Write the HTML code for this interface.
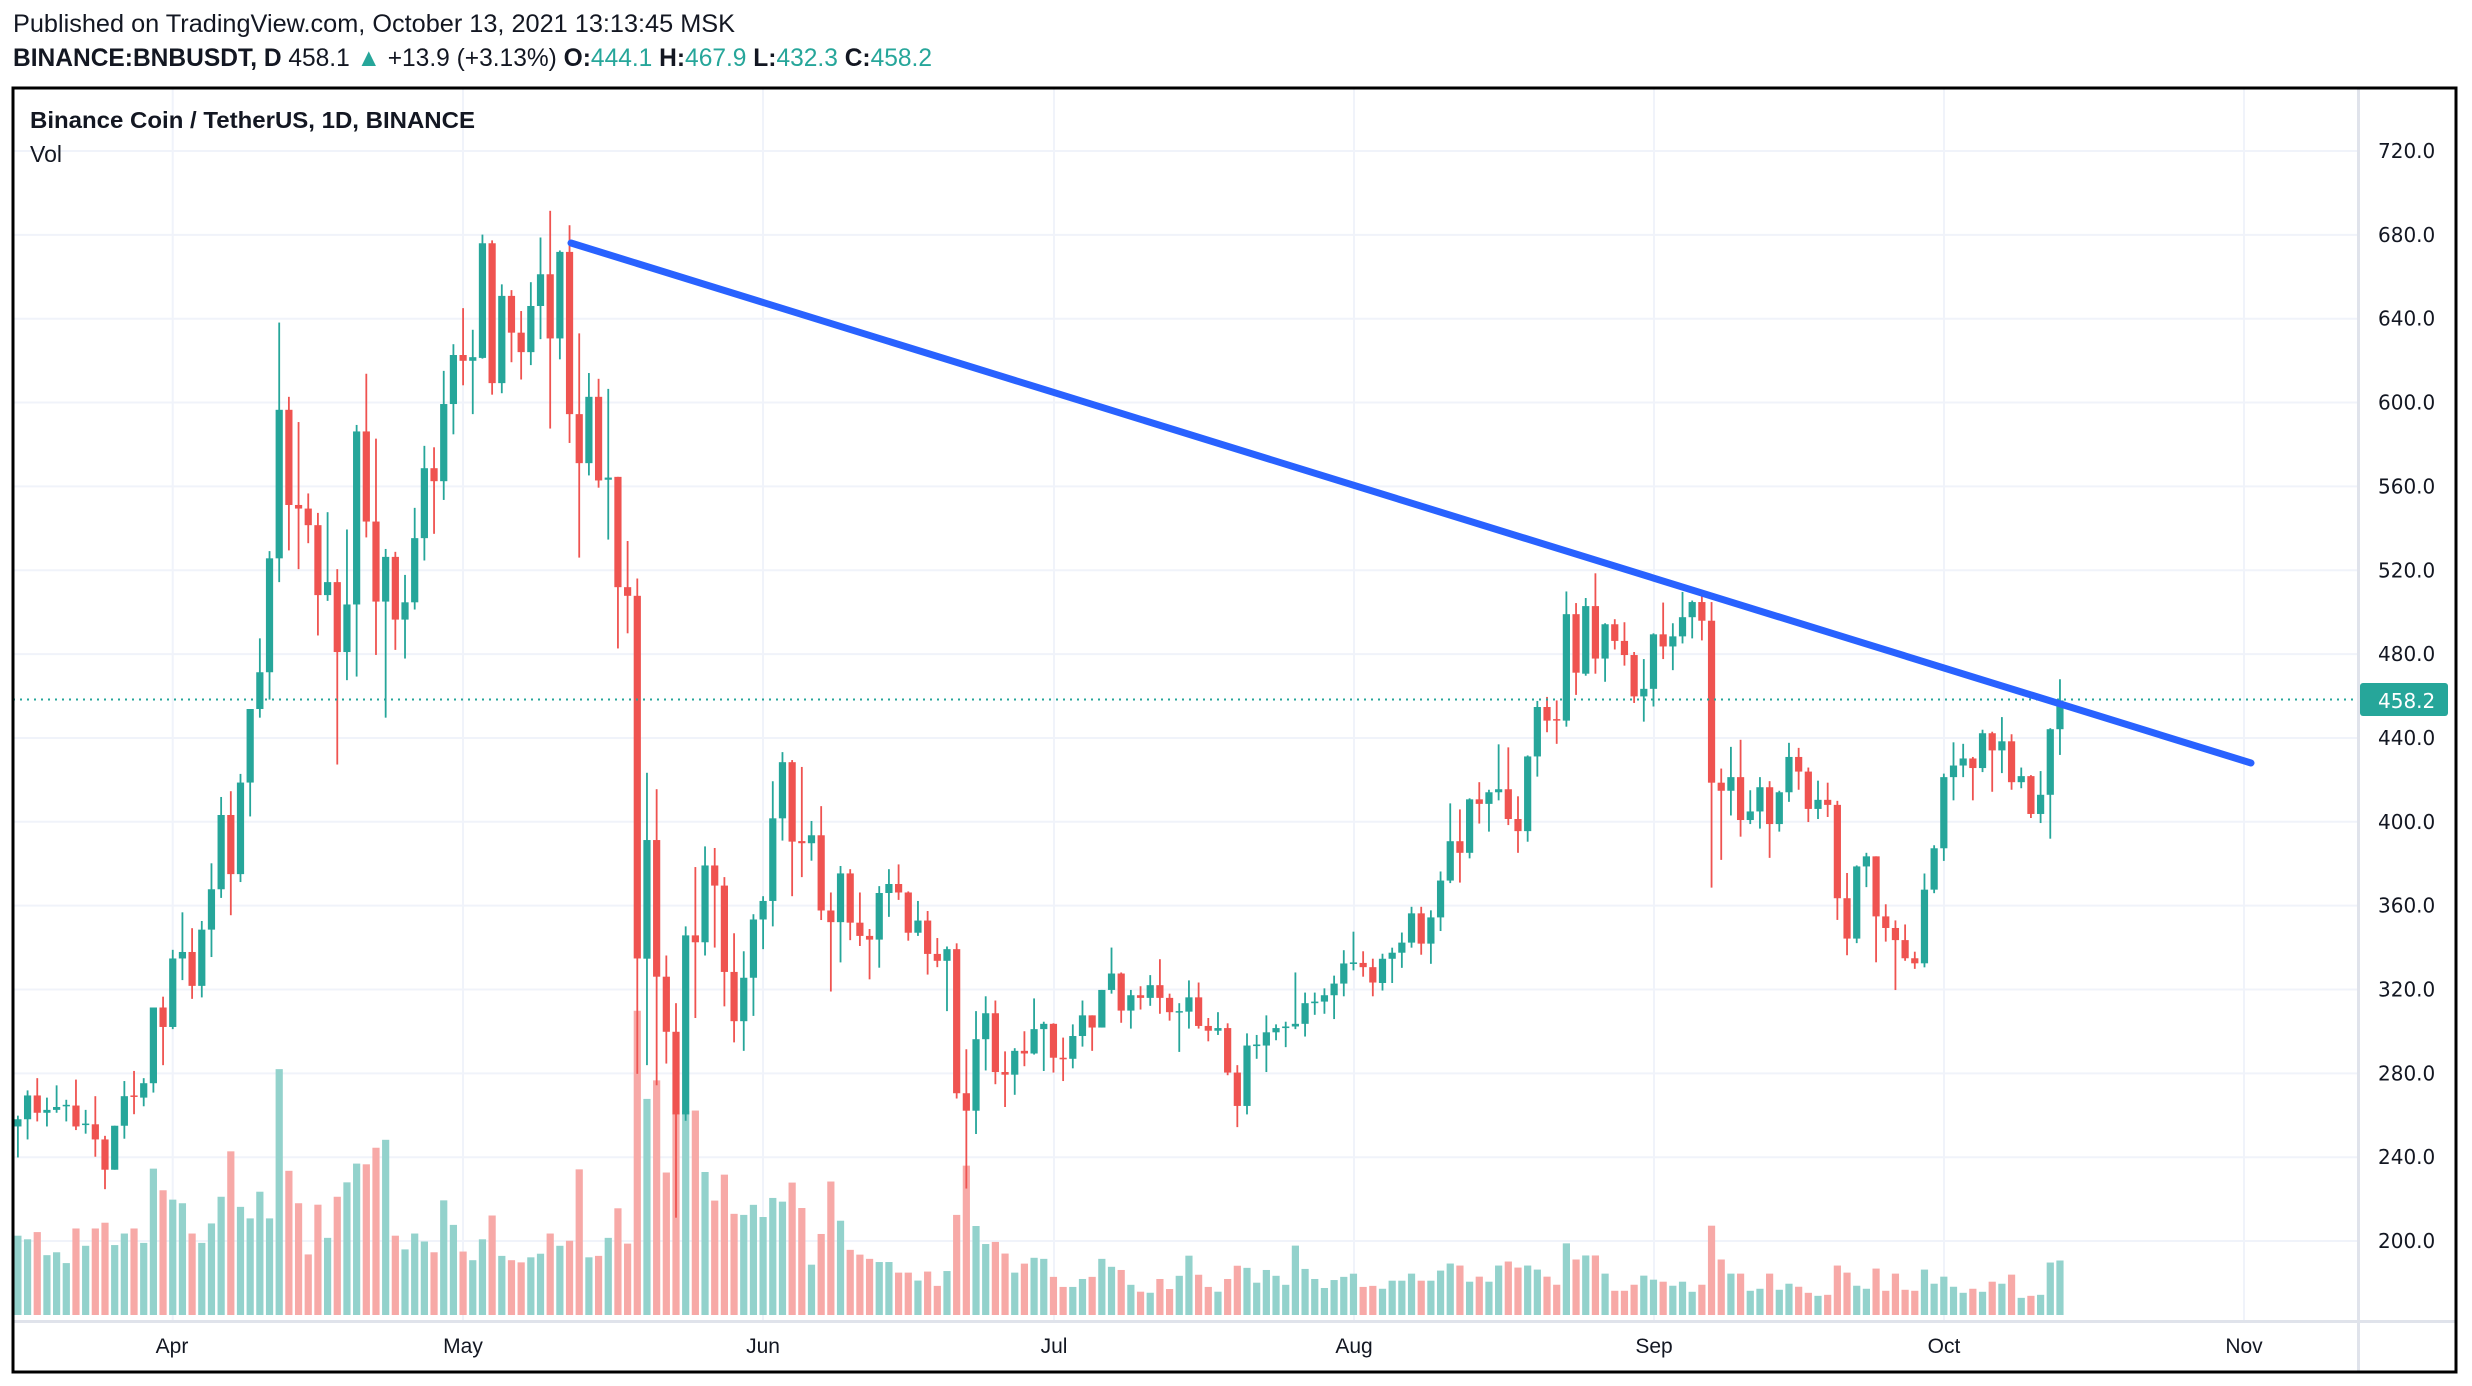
<!DOCTYPE html>
<html><head><meta charset="utf-8">
<style>
html,body{margin:0;padding:0;background:#fff;}
svg{display:block;}
</style></head>
<body>
<svg id="s" width="2472" height="1386" xmlns="http://www.w3.org/2000/svg">
<rect width="2472" height="1386" fill="#fff"/>
<g id="grid"></g>
<g id="vol"></g>
<g id="cdl"></g>
<line x1="13" y1="699.5" x2="2358" y2="699.5" stroke="#26a69a" stroke-width="2" stroke-dasharray="2,5"/>
<line x1="571" y1="243" x2="2251" y2="763" stroke="#2962ff" stroke-width="7" stroke-linecap="round"/>
<line x1="2358.5" y1="88" x2="2358.5" y2="1372" stroke="#e0e3eb" stroke-width="3"/>
<line x1="13" y1="1321.5" x2="2456" y2="1321.5" stroke="#e0e3eb" stroke-width="3"/>
<rect x="13" y="88" width="2443" height="1284" fill="none" stroke="#000" stroke-width="3"/>
<g id="axis" font-family="DejaVu Sans, sans-serif" font-size="20" fill="#131722"></g>
<rect x="2360" y="683" width="88" height="33" rx="3" fill="#26a69a"/>
<text x="2378" y="708" font-family="DejaVu Sans, sans-serif" font-size="20" fill="#fff">458.2</text>
<g font-family="Liberation Sans, sans-serif" font-size="21" fill="#131722" text-anchor="middle">
<text x="172" y="1353">Apr</text><text x="463" y="1353">May</text><text x="763" y="1353">Jun</text><text x="1054" y="1353">Jul</text><text x="1354" y="1353">Aug</text><text x="1654" y="1353">Sep</text><text x="1944" y="1353">Oct</text><text x="2244" y="1353">Nov</text>
</g>
<text x="13" y="32" font-family="Liberation Sans, sans-serif" font-size="25" fill="#131722" textLength="722" lengthAdjust="spacingAndGlyphs">Published on TradingView.com, October 13, 2021 13:13:45 MSK</text>
<text x="13" y="66" font-family="Liberation Sans, sans-serif" font-size="25" fill="#131722" textLength="919" lengthAdjust="spacingAndGlyphs"><tspan font-weight="bold">BINANCE:BNBUSDT, D</tspan> 458.1 <tspan fill="#26a69a">▲</tspan> +13.9 (+3.13%) <tspan font-weight="bold">O:</tspan><tspan fill="#26a69a">444.1</tspan> <tspan font-weight="bold">H:</tspan><tspan fill="#26a69a">467.9</tspan> <tspan font-weight="bold">L:</tspan><tspan fill="#26a69a">432.3</tspan> <tspan font-weight="bold">C:</tspan><tspan fill="#26a69a">458.2</tspan></text>
<text x="30" y="128" font-family="Liberation Sans, sans-serif" font-size="23" font-weight="bold" fill="#131722" textLength="445" lengthAdjust="spacingAndGlyphs">Binance Coin / TetherUS, 1D, BINANCE</text>
<text x="30" y="162" font-family="Liberation Sans, sans-serif" font-size="23" fill="#131722">Vol</text>
</svg>
<script>
var NS="http://www.w3.org/2000/svg";
function el(p,t,a){var e=document.createElementNS(NS,t);for(var k in a)e.setAttribute(k,a[k]);p.appendChild(e);return e;}
var grid=document.getElementById('grid'),vol=document.getElementById('vol'),cdl=document.getElementById('cdl'),axis=document.getElementById('axis');
for(var k=0;k<14;k++){var y=151+k*83.85;el(grid,'line',{x1:13,x2:2358,y1:y,y2:y,stroke:'#f0f3fa','stroke-width':2});
var t=el(axis,'text',{x:2378,y:y+7});t.textContent=(720-40*k).toFixed(1);}
[172.7,463,763,1054,1354,1654,1944,2244].forEach(function(x){el(grid,'line',{x1:x,x2:x,y1:88,y2:1321,stroke:'#f0f3fa','stroke-width':2});});
var A="1275,1285,1270,1328,G,1435;1242,1275,1235,1303,G,1440;1242,1266,1218,1278,R,1430;1262,1266,1245,1285,G,1462;1258,1262,1228,1266,G,1458;1255,1257,1248,1278,G,1473;1256,1285,1220,1290,R,1425;1281,1283,1262,1295,G,1449;1282,1303,1243,1327,R,1425;1303,1345,1298,1372,R,1417;1284,1345,1284,1345,G,1448;1243,1284,1222,1302,G,1432;1242,1244,1208,1268,R,1425;1225,1245,1218,1257,G,1445;1120,1225,1120,1238,G,1342;1120,1147,1105,1200,R,1372;1052,1147,1040,1150,G,1385;1043,1052,988,1082,G,1390;1043,1090,1010,1108,R,1432;1012,1090,1000,1106,G,1445;956,1012,920,1050,G,1418;853,956,828,968,G,1381;853,935,820,992,R,1318;808,935,796,946,G,1395;706,808,706,855,G,1411;655,706,608,718,G,1374;497,655,487,693,G,1411;291,497,170,530,G,1204;291,423,273,486,R,1345;423,428,308,512,R,1390;428,451,407,476,R,1461;451,548,434,604,R,1392;530,548,433,556,G,1438;530,627,512,783,R,1381;561,627,457,666,G,1361;321,561,312,661,G,1335;321,446,241,468,R,1336;446,557,331,631,R,1313;495,557,484,718,G,1302;495,582,488,624,R,1435;558,582,520,636,G,1454;469,558,427,568,G,1432;372,469,341,500,G,1443;372,390,343,463,R,1458;283,390,237,416,G,1386;215,283,200,325,G,1420;215,223,150,257,R,1457;218,223,180,297,G,1469;60,219,48,220,G,1440;60,254,56,270,R,1407;133,254,117,268,G,1463;133,184,125,225,R,1469;184,211,154,249,R,1472;147,211,114,229,G,1465;103,147,52,193,G,1460;103,192,15,317,R,1432;72,192,70,221,G,1449;72,297,35,337,R,1442;297,365,185,496,R,1343;273,365,240,382,G,1465;273,389,248,399,R,1463;385,388,262,471,G,1438;384,537,384,622,R,1397;537,549,473,601,R,1446;549,1052,525,1212,R,1123";
var B="642,866,515,1067,G,1132;642,900,546,1105,R,1097;900,1004,860,1064,R,1271;1004,1160,950,1355,R,1160;822,1160,805,1172,G,1155;822,835,693,978,R,1154;690,835,654,860,G,1270;690,728,657,845,R,1324;728,891,712,956,R,1275;891,984,818,1024,R,1349;902,984,852,1040,G,1351;792,902,782,974,G,1332;757,792,748,848,G,1355;601,757,531,805,G,1319;495,601,476,643,G,1326;495,645,491,748,R,1290;644,648,504,712,R,1338;633,648,606,681,G,1445;633,775,578,793,R,1387;775,797,741,928,R,1288;705,797,691,873,G,1362;705,798,697,831,R,1417;798,823,741,842,R,1426;823,830,810,905,R,1434;742,830,729,883,G,1440;725,742,697,787,G,1440;725,741,688,755,R,1460;741,817,739,832,R,1460;794,817,757,823,G,1475;794,857,776,896,R,1458;857,870,827,882,R,1485;848,870,843,965,G,1457;848,1120,837,1130,R,1351;1120,1153,1037,1300,R,1258;1018,1153,965,1197,G,1372;969,1018,937,1077,G,1406;969,1080,945,1103,R,1402;1080,1085,1041,1146,R,1424;1040,1085,1035,1123,G,1460;1040,1045,1003,1069,R,1443;999,1045,941,1047,G,1432;989,999,985,1078,G,1434;989,1053,988,1081,R,1468;1053,1056,1015,1097,R,1487;1012,1055,990,1073,G,1487;973,1012,945,1032,G,1472;973,996,973,1040,R,1468;925,996,925,996,G,1434;894,925,845,932,G,1449;894,964,892,987,R,1455;935,964,925,998,G,1483;935,940,918,962,R,1496;916,940,897,955,G,1498;916,940,867,970,R,1472;940,967,932,983,R,1491;965,967,950,1042,G,1466;939,966,907,998,G,1428;939,993,911,998,R,1464;993,1002,978,1022,R,1487;997,1002,967,1010,G,1496;997,1081,988,1086,R,1472;1081,1144,1067,1184,R,1447;1030,1144,1007,1160,G,1451;1028,1031,1010,1055,G,1479;1005,1030,973,1080,G,1455;997,1005,990,1020,G,1466;994,997,985,1033,G,1483;989,994,892,999,G,1409;950,989,930,1013,G,1453;947,950,930,972,G,1472;935,947,922,970,G,1489;913,935,898,980,G,1474;875,913,850,937,G,1468;873,876,815,888,G,1462;874,882,852,900,R,1487;882,911,866,937,R,1485";
var C="830,878,820,893,G,1485;818,830,808,878,G,1469;798,818,778,848,G,1469;740,798,727,808,G,1455;740,800,727,822,R,1469;748,800,734,840,G,1469;675,748,657,775,G,1449;597,675,522,680,G,1435;597,620,534,679,R,1439;514,620,512,631,G,1471;514,523,480,562,R,1461;500,523,495,578,G,1471;494,500,405,516,G,1439;494,553,411,565,R,1431;553,577,508,620,R,1443;429,577,427,598,G,1439;331,429,319,469,G,1447;331,358,311,381,R,1461;355,358,318,404,R,1477;147,358,102,370,G,1395;147,263,125,307,R,1427;131,265,115,269,G,1419;131,235,66,265,R,1419;167,235,165,281,G,1455;167,200,157,217,R,1489;200,228,163,249,R,1489;228,310,222,323,R,1477;295,310,236,360,G,1459;187,295,185,330,G,1467;187,211,124,236,R,1471;191,211,165,258,G,1479;153,191,103,205,G,1471;123,153,120,195,G,1491;123,160,105,199,R,1477;160,481,123,689,R,1360;481,497,453,634,R,1427;470,497,410,546,G,1455;470,555,396,588,R,1455;538,555,496,563,G,1489;490,538,470,572,G,1485;490,563,478,630,R,1455;500,563,497,578,G,1487;430,500,402,519,G,1475;430,459,412,495,R,1481;459,533,451,559,R,1493;515,533,477,553,G,1499;515,525,481,549,R,1497;525,710,517,753,R,1439;710,790,660,823,R,1453;647,790,645,799,G,1479;627,647,620,688,G,1485;627,746,627,837,R,1445;746,769,722,796,R,1489;769,793,754,892,R,1455;793,829,762,834,R,1487;829,839,816,850,R,1489;693,839,661,847,G,1447;611,693,605,700,G,1475;470,611,463,636,G,1461;447,470,401,516,G,1481;433,447,404,470,G,1493;433,452,430,516,R,1485;383,452,376,460,G,1491;383,417,380,499,R,1471;399,417,351,462,G,1475;399,480,385,495,R,1457;468,480,451,492,G,1503;468,543,466,551,R,1499;505,543,458,561,G,1497;375,505,373,592,G,1433;318,375,276,426,G,1429";
var idx=0;
function seg(str,off,f,vb){
 str.split(';').forEach(function(s){
  var p=s.split(','),x=17.9+idx*9.678;idx++;
  var bt=off+(+p[0])/f,bb=off+(+p[1])/f,wt=off+(+p[2])/f,wb=off+(+p[3])/f,g=p[4]=='G';
  var vh=(vb-(+p[5]))/f;
  el(vol,'rect',{x:x-3.6,y:1315-vh,width:7.2,height:vh,fill:g?'#93d2cc':'#f7a9a7'});
  var col=g?'#26a69a':'#ef5350';
  el(cdl,'rect',{x:x-0.9,y:wt,width:1.8,height:Math.max(1,wb-wt),fill:col});
  el(cdl,'rect',{x:x-3.6,y:bt,width:7.2,height:Math.max(1.5,bb-bt),fill:col});
 });
}
seg(A,200,1.387,1545);
seg(B,500,1.888,1540);
seg(C,540,1.982,1537);
</script>
</body></html>
